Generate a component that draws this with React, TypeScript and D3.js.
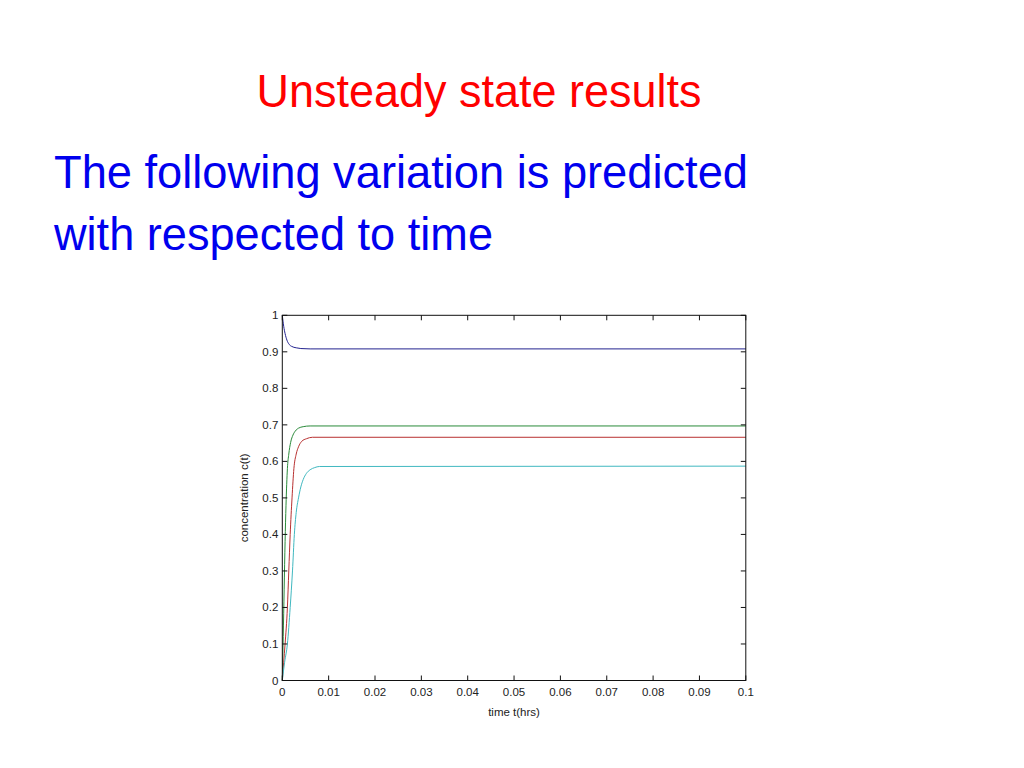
import React from "react";
import * as d3 from "d3";

const title = "Unsteady state results";
const subtitleLines = ["The following variation is predicted", "with respected to time"];
const xLabel = "time t(hrs)";
const yLabel = "concentration c(t)";

const xTicks = [0, 0.01, 0.02, 0.03, 0.04, 0.05, 0.06, 0.07, 0.08, 0.09, 0.1];
const xTickLabels = ["0", "0.01", "0.02", "0.03", "0.04", "0.05", "0.06", "0.07", "0.08", "0.09", "0.1"];
const yTicks = [0, 0.1, 0.2, 0.3, 0.4, 0.5, 0.6, 0.7, 0.8, 0.9, 1];
const yTickLabels = ["0", "0.1", "0.2", "0.3", "0.4", "0.5", "0.6", "0.7", "0.8", "0.9", "1"];

const blueT = [0, 0.0003, 0.0006, 0.001, 0.0015, 0.002, 0.003, 0.004, 0.006, 0.1];
const blueC = [1.0, 0.97, 0.95, 0.932, 0.92, 0.915, 0.911, 0.909, 0.908, 0.908];

const greenT = [0, 0.0002, 0.0004, 0.0006, 0.0008, 0.0011, 0.0014, 0.0018, 0.0023, 0.0028, 0.0035, 0.0045, 0.006, 0.1];
const greenC = [0, 0.12, 0.25, 0.38, 0.48, 0.58, 0.62, 0.652, 0.672, 0.683, 0.691, 0.695, 0.697, 0.697];

const redT = [0, 0.0003, 0.0006, 0.0011, 0.0014, 0.0017, 0.0021, 0.0025, 0.003, 0.0035, 0.0042, 0.0052, 0.0065, 0.1];
const redC = [0, 0.05, 0.1, 0.2, 0.3, 0.4, 0.5, 0.58, 0.62, 0.64, 0.655, 0.662, 0.666, 0.666];

const cyanT = [0, 0.0005, 0.0011, 0.0017, 0.0022, 0.0026, 0.003, 0.0035, 0.004, 0.0045, 0.0052, 0.006, 0.007, 0.008, 0.1];
const cyanC = [0, 0.05, 0.1, 0.2, 0.3, 0.4, 0.46, 0.5, 0.53, 0.55, 0.567, 0.577, 0.583, 0.586, 0.587];

const seriesColors = ["#23238f", "#2a8a3a", "#b83030", "#40b8c0"];

export default function App() {
  const left = 282.3, right = 745.8, top = 315.3, bottom = 680.5;
  const x = d3.scaleLinear().domain([0, 0.1]).range([left, right]);
  const y = d3.scaleLinear().domain([0, 1]).range([bottom, top]);
  const line = d3
    .line<[number, number]>()
    .x((d) => x(d[0]))
    .y((d) => y(d[1]))
    .curve(d3.curveMonotoneX);

  const series = [
    { t: blueT, c: blueC },
    { t: greenT, c: greenC },
    { t: redT, c: redC },
    { t: cyanT, c: cyanC },
  ];

  const tickLen = 5;
  const font = "Liberation Sans, Arial, sans-serif";

  return (
    <svg
      width={1024}
      height={768}
      style={{ position: "absolute", left: 0, top: 0, background: "#fff" }}
    >
      <rect x={0} y={0} width={1024} height={768} fill="#fff" />
      <text
        x={256.5}
        y={106.5}
        fontFamily={font}
        fontSize={46}
        fill="#ff0000"
        textLength={445}
        lengthAdjust="spacingAndGlyphs"
      >
        {title}
      </text>
      <text
        x={54}
        y={188}
        fontFamily={font}
        fontSize={47}
        fill="#0000ee"
        textLength={694}
        lengthAdjust="spacingAndGlyphs"
      >
        {subtitleLines[0]}
      </text>
      <text
        x={54}
        y={250}
        fontFamily={font}
        fontSize={47}
        fill="#0000ee"
        textLength={439}
        lengthAdjust="spacingAndGlyphs"
      >
        {subtitleLines[1]}
      </text>

      {series.map((s, i) => (
        <path
          key={i}
          d={line(s.t.map((t, j) => [t, s.c[j]] as [number, number])) || ""}
          fill="none"
          stroke={seriesColors[i]}
          strokeWidth={1}
        />
      ))}

      <rect x={left} y={top} width={right - left} height={bottom - top} fill="none" stroke="#111" strokeWidth={1} />

      {xTicks.map((t, i) => (
        <g key={"x" + i}>
          <line x1={x(t)} x2={x(t)} y1={bottom} y2={bottom - tickLen} stroke="#111" />
          <line x1={x(t)} x2={x(t)} y1={top} y2={top + tickLen} stroke="#111" />
          <text
            x={x(t)}
            y={bottom + 15}
            textAnchor="middle"
            fontFamily={font}
            fontSize={11.5}
            fill="#222"
          >
            {xTickLabels[i]}
          </text>
        </g>
      ))}
      {yTicks.map((v, i) => (
        <g key={"y" + i}>
          <line x1={left} x2={left + tickLen} y1={y(v)} y2={y(v)} stroke="#111" />
          <line x1={right} x2={right - tickLen} y1={y(v)} y2={y(v)} stroke="#111" />
          <text
            x={left - 4}
            y={y(v) + 4}
            textAnchor="end"
            fontFamily={font}
            fontSize={11.5}
            fill="#222"
          >
            {yTickLabels[i]}
          </text>
        </g>
      ))}
      <text x={(left + right) / 2} y={716} textAnchor="middle" fontFamily={font} fontSize={11.5} fill="#222">
        {xLabel}
      </text>
      <text
        transform={`translate(248, ${(top + bottom) / 2}) rotate(-90)`}
        textAnchor="middle"
        fontFamily={font}
        fontSize={11.5}
        fill="#222"
      >
        {yLabel}
      </text>
    </svg>
  );
}
